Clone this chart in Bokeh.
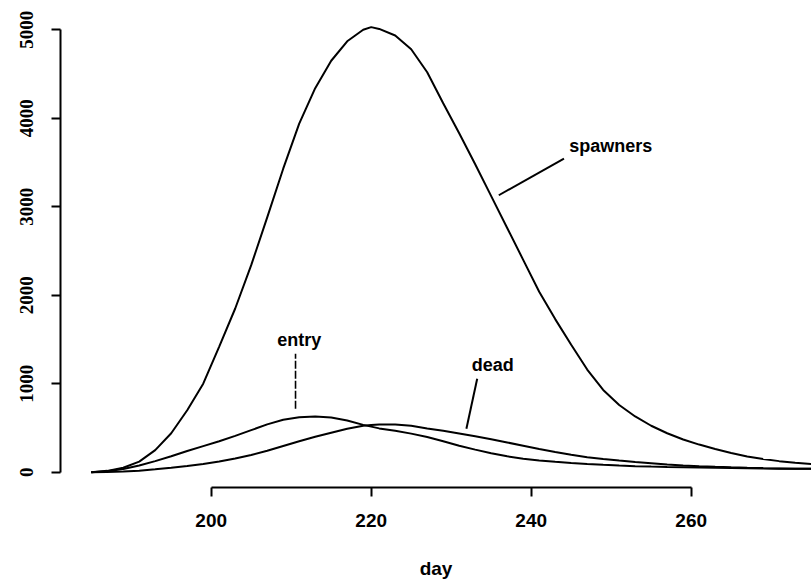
from bokeh.plotting import figure
from bokeh.models import Range1d, Label, FixedTicker
from bokeh.embed import file_html
from bokeh.resources import INLINE

# ---- data ----
days = [185, 187, 189, 191, 193, 195, 197, 199, 201, 203, 205, 207, 209, 211, 213,
        215, 217, 219, 220, 221, 223, 225, 227, 229, 231, 233, 235, 237, 239, 241, 243,
        245, 247, 249, 251, 253, 255, 257, 259, 261, 263, 265, 267, 269, 271, 273, 275]

spawners = [0, 15, 50, 120, 250, 440, 700, 1000, 1420, 1850, 2340, 2880, 3430, 3940, 4340,
            4650, 4870, 5000, 5030, 5010, 4935, 4780, 4520, 4170, 3830, 3480, 3120, 2760, 2400, 2040, 1730,
            1440, 1160, 930, 760, 630, 525, 440, 370, 312, 262, 218, 178, 148, 125, 107, 93]

entry = [0, 10, 35, 75, 125, 180, 240, 295, 350, 410, 475, 540, 592, 620, 630,
         618, 585, 535, 515, 495, 468, 436, 397, 350, 298, 255, 215, 180, 153, 132, 117,
         103, 92, 83, 75, 68, 63, 59, 56, 53, 50, 47, 45, 42, 40, 39, 38]

dead = [0, 3, 8, 17, 32, 50, 70, 92, 120, 155, 195, 242, 296, 350, 400,
        445, 490, 525, 533, 538, 540, 525, 495, 468, 438, 405, 372, 336, 300, 262, 228,
        197, 170, 150, 132, 116, 102, 88, 76, 68, 61, 55, 50, 46, 43, 40, 38]

x_ticks = [200, 220, 240, 260]
y_ticks = [0, 1000, 2000, 3000, 4000, 5000]

# annotation texts and pointer segments (data coordinates)
label_text = ["spawners", "entry", "dead"]
label_x = [249.95, 211.0, 235.2]
label_y = [3690, 1490, 1207]
ptr_x0 = [235.95, 233.25]
ptr_y0 = [3130, 1057]
ptr_x1 = [244.1, 231.9]
ptr_y1 = [3545, 491]
entry_ptr_x = [210.54, 210.54]
entry_ptr_y = [717, 1339]

FONT = "Liberation Sans"

p = figure(width=811, height=582, output_backend="svg", toolbar_location=None,
           x_range=Range1d(181.16, 275.04), y_range=Range1d(-173, 5331),
           min_border_left=60, min_border_right=0, min_border_top=0, min_border_bottom=95)
p.outline_line_color = None
p.xgrid.visible = False
p.ygrid.visible = False
p.background_fill_color = "white"
p.border_fill_color = "white"

for series in (spawners, entry, dead):
    p.line(days, series, line_color="black", line_width=2)

p.segment(x0=ptr_x0, y0=ptr_y0, x1=ptr_x1, y1=ptr_y1, line_color="black", line_width=2)
p.line(entry_ptr_x, entry_ptr_y, line_color="black", line_width=1.6, line_dash="8 2")

for t, x, y in zip(label_text, label_x, label_y):
    p.add_layout(Label(x=x, y=y, text=t, text_align="center", text_baseline="middle",
                       text_font=FONT, text_font_style="bold", text_font_size="18px",
                       text_color="black"))

xa = p.xaxis[0]
xa.bounds = (200, 260)
xa.ticker = FixedTicker(ticks=x_ticks)
xa.minor_tick_out = 0
xa.minor_tick_in = 0
xa.major_tick_in = 0
xa.major_tick_out = 9
xa.axis_line_width = 2
xa.axis_line_color = "black"
xa.major_tick_line_width = 2
xa.major_label_standoff = 17
xa.major_label_text_font = FONT
xa.major_label_text_font_style = "bold"
xa.major_label_text_font_size = "19px"
xa.major_label_text_color = "black"
xa.axis_label = "day"
xa.axis_label_standoff = 28
xa.axis_label_text_font = FONT
xa.axis_label_text_font_style = "bold"
xa.axis_label_text_font_size = "19px"
xa.axis_label_text_color = "black"

ya = p.yaxis[0]
ya.bounds = (0, 5000)
ya.ticker = FixedTicker(ticks=y_ticks)
ya.minor_tick_out = 0
ya.minor_tick_in = 0
ya.major_tick_in = 0
ya.major_tick_out = 9
ya.axis_line_width = 2
ya.axis_line_color = "black"
ya.major_tick_line_width = 2
ya.major_label_orientation = "vertical"
ya.major_label_standoff = 18
ya.major_label_text_font = "Liberation Sans Narrow"
ya.major_label_text_font_style = "bold"
ya.major_label_text_font_size = "19px"
ya.major_label_text_color = "black"

open("out.html", "w").write(file_html(p, INLINE))
